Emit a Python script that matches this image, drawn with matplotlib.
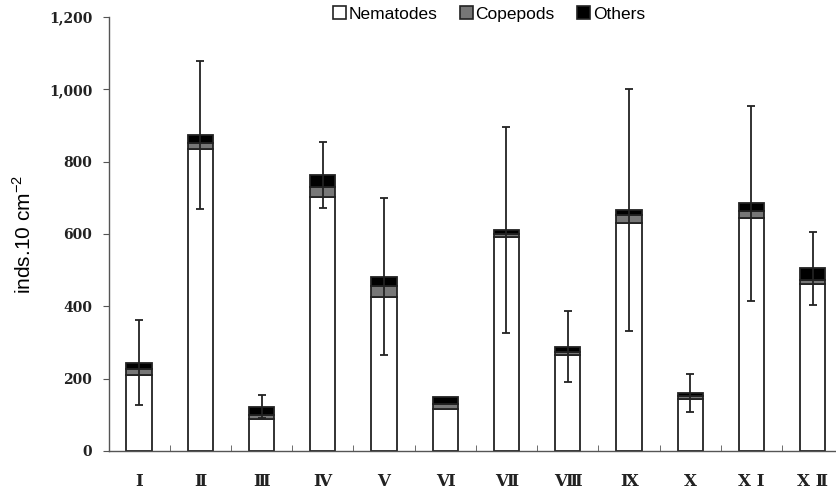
import numpy as np
import matplotlib
matplotlib.use("Agg")
import matplotlib.pyplot as plt
from matplotlib.ticker import FuncFormatter, FixedLocator
from matplotlib.patches import Patch

categories = ["Ⅰ", "Ⅱ", "Ⅲ", "Ⅳ", "Ⅴ", "Ⅵ", "Ⅶ", "Ⅷ", "Ⅸ", "Ⅹ", "Ⅹ Ⅰ", "Ⅹ Ⅱ"]
nematodes = [210, 835, 89, 703, 427, 115, 593, 265, 631, 143, 643, 461]
copepods = [16, 16, 10, 26, 29, 14, 6, 10, 22, 10, 21, 12]
others = [18, 23, 24, 34, 26, 21, 12, 13, 13, 8, 21, 32]
errors = [117, 205, 32, 92, 217, 0, 286, 98, 334, 52, 270, 101]
series_names = ["Nematodes", "Copepods", "Others"]
yticks = [0, 200, 400, 600, 800, 1000, 1200]

plt.rcParams["mathtext.fontset"] = "custom"
plt.rcParams["mathtext.rm"] = "Liberation Sans"

fig = plt.figure(figsize=(8.36, 4.98), dpi=100)
ax = fig.add_axes([0.1304, 0.0944, 0.8696, 0.8715])

x = np.arange(len(categories))
nem = np.array(nematodes)
cop = np.array(copepods)
oth = np.array(others)
err = np.array(errors)
edge = "#222222"
w = 0.41
ax.bar(x, nem, w, color="white", edgecolor=edge, linewidth=1.3, zorder=2)
ax.bar(x, cop, w, bottom=nem, color="#777777", edgecolor=edge, linewidth=1.3, zorder=2)
ax.bar(x, oth, w, bottom=nem + cop, color="black", edgecolor=edge, linewidth=1.3, zorder=2)

tot = nem + cop + oth
m = err > 0
ax.errorbar(x[m], tot[m], yerr=err[m], fmt="none", ecolor=edge, elinewidth=1.3,
            capsize=2.6, capthick=1.3, zorder=3)

ax.set_xlim(-0.49, 11.38)
ax.set_ylim(0, 1200)
ax.set_yticks(yticks)
ax.yaxis.set_major_formatter(FuncFormatter(lambda v, p: f"{int(v):,}"))
ax.set_xticks(x)
ax.set_xticklabels(categories)
ax.xaxis.set_minor_locator(FixedLocator(x[:-1] + 0.5))

for s in ["top", "right"]:
    ax.spines[s].set_visible(False)
for s in ["left", "bottom"]:
    ax.spines[s].set_color("#555555")
    ax.spines[s].set_linewidth(1.0)

ax.tick_params(axis="y", direction="out", length=4, color="#555555", pad=8)
ax.tick_params(axis="x", which="major", length=0, pad=16)
ax.tick_params(axis="x", which="minor", direction="in", length=4, color="#555555")

for lab in ax.get_yticklabels():
    lab.set_family(["DejaVu Serif"])
    lab.set_fontweight("bold")
    lab.set_fontsize(10)
    lab.set_color("#222222")
for lab in ax.get_xticklabels():
    lab.set_family(["DejaVu Serif", "DejaVu Sans", "Noto Sans CJK KR"])
    lab.set_fontweight("bold")
    lab.set_fontsize(12)
    lab.set_color("#222222")

ax.set_ylabel(r"inds.10 cm$^{\mathrm{-2}}$", fontsize=15, family="Liberation Sans", labelpad=10)

handles = [Patch(facecolor="white", edgecolor=edge, linewidth=1.2),
           Patch(facecolor="#777777", edgecolor=edge, linewidth=1.2),
           Patch(facecolor="black", edgecolor=edge, linewidth=1.2)]
fig.legend(handles, series_names, loc="center", bbox_to_anchor=(0.585, 0.972), ncol=3,
           frameon=False, prop={"family": "Liberation Sans", "size": 12.5},
           handlelength=0.75, handleheight=0.75, handletextpad=0.15, columnspacing=1.3)

fig.savefig("out.png", dpi=100)
